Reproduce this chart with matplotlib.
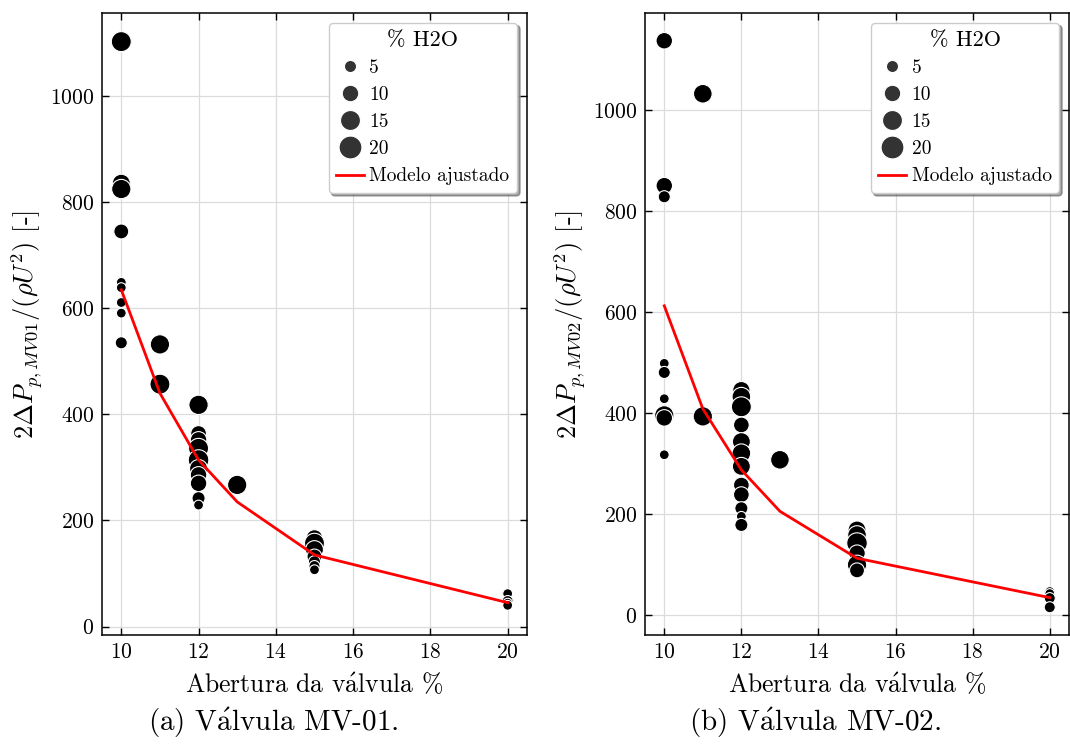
import numpy as np
import matplotlib
matplotlib.use("Agg")
import matplotlib.pyplot as plt
from matplotlib.lines import Line2D

plt.rcParams['font.family'] = ['cmr10', 'DejaVu Serif']
plt.rcParams['mathtext.fontset'] = 'cm'
plt.rcParams['axes.formatter.use_mathtext'] = True
plt.rcParams['axes.unicode_minus'] = False

# ── MV-01 ────────────────────────────────────────────────────────────────────
x_mv01 = [10, 10, 10, 10, 10, 10, 10, 10, 10,
          11, 11,
          12, 12, 12, 12, 12, 12, 12, 12, 12, 12,
          13,
          15, 15, 15, 15, 15, 15, 15,
          20, 20, 20, 20]
y_mv01 = [1103, 836, 825, 745, 649, 639, 611, 591, 535,
          532, 457,
          418, 364, 352, 336, 314, 298, 286, 270, 242, 229,
          267,
          167, 157, 145, 132, 122, 114, 107,
          62, 48, 44, 40]
h2o_mv01 = [15, 12, 14, 8, 3, 3, 3, 3, 5,
            14, 15,
            14, 9, 10, 15, 16, 12, 10, 10, 6, 3,
            14,
            10, 15, 12, 8, 5, 4, 3,
            3, 4, 3, 3]
xm_mv01 = [10, 11, 12, 13, 15, 20]
ym_mv01 = [635, 440, 314, 235, 135, 45]

# ── MV-02 ────────────────────────────────────────────────────────────────────
x_mv02 = [10, 10, 10, 10, 10, 10, 10, 10, 10,
          11, 11,
          12, 12, 12, 12, 12, 12, 12, 12, 12, 12, 12, 12,
          13,
          15, 15, 15, 15, 15, 15,
          20, 20, 20, 20]
y_mv02 = [1137, 850, 828, 498, 480, 428, 395, 390, 317,
          1032, 393,
          445, 432, 412, 376, 343, 320, 294, 257, 238, 211, 195, 178,
          307,
          168, 158, 142, 122, 99, 88,
          46, 42, 33, 15]
h2o_mv02 = [10, 10, 5, 3, 5, 3, 14, 10, 3,
            13, 14,
            11, 13, 15, 9, 12, 13, 12, 9, 9, 6, 3, 6,
            13,
            12, 13, 16, 10, 14, 8,
            3, 3, 4, 4]
xm_mv02 = [10, 11, 12, 13, 15, 20]
ym_mv02 = [612, 408, 287, 205, 112, 34]

legend_h2o = [5, 10, 15, 20]

valvula = r'v$\acute{\mathrm{a}}$lvula'


def size_of(h):
    return 76 + 13.0 * (np.asarray(h, dtype=float) - 5)


fig = plt.figure(figsize=(10.7, 7.46), dpi=100)
ax1 = fig.add_axes([0.0953, 0.1488, 0.3972, 0.8338])
ax2 = fig.add_axes([0.6028, 0.1488, 0.3963, 0.8338])

paineis = [
    (ax1, x_mv01, y_mv01, h2o_mv01, xm_mv01, ym_mv01, 'MV01', (-16, 1157)),
    (ax2, x_mv02, y_mv02, h2o_mv02, xm_mv02, ym_mv02, 'MV02', (-40, 1192)),
]

for ax, x, y, h, xm, ym, nome, ylim in paineis:
    ax.scatter(x, y, s=size_of(h), c='black', edgecolors='white',
               linewidths=0.8, zorder=2)
    ax.plot(xm, ym, color='red', lw=2.0, zorder=3)
    ax.set_xlim(9.5, 20.5)
    ax.set_ylim(*ylim)
    ax.set_xticks([10, 12, 14, 16, 18, 20])
    ax.set_yticks([0, 200, 400, 600, 800, 1000])
    ax.grid(True, color='#dcdcdc', lw=0.9)
    ax.set_axisbelow(True)
    ax.tick_params(direction='in', top=True, right=True, length=5,
                   width=1, labelsize=15.5, pad=5.5)
    for sp in ax.spines.values():
        sp.set_linewidth(1.1)
    ax.set_xlabel('Abertura da ' + valvula + ' %', fontsize=18.5, labelpad=7)
    ax.set_ylabel(r'$2\Delta P_{p,%s}/(\rho U^2)$ [-]' % nome, fontsize=19)

    handles = [Line2D([], [], ls='', marker='o', color='#333333',
                      markeredgecolor='white', markeredgewidth=0.8,
                      markersize=np.sqrt(size_of(v))) for v in legend_h2o]
    handles.append(Line2D([], [], color='red', lw=2.0))
    labels = [str(v) for v in legend_h2o] + ['Modelo ajustado']
    leg = ax.legend(handles, labels, title='% H2O', loc='upper right',
                    fontsize=14, title_fontsize=16, fancybox=True,
                    shadow=True, framealpha=1, edgecolor='#cccccc',
                    borderaxespad=0.5, labelspacing=0.47, handlelength=1.4,
                    handletextpad=0.3, borderpad=0.4)

ax1.yaxis.set_label_coords(-0.136, 0.5)
ax2.yaxis.set_label_coords(-0.136, 0.5)

fig.text(273 / 1070, 1 - 723 / 746, '(a) V' + valvula[1:] + ' MV-01.',
         ha='center', va='center', fontsize=21)
fig.text(815 / 1070, 1 - 723 / 746, '(b) V' + valvula[1:] + ' MV-02.',
         ha='center', va='center', fontsize=21)

fig.savefig('out.png', dpi=100, facecolor='white')
